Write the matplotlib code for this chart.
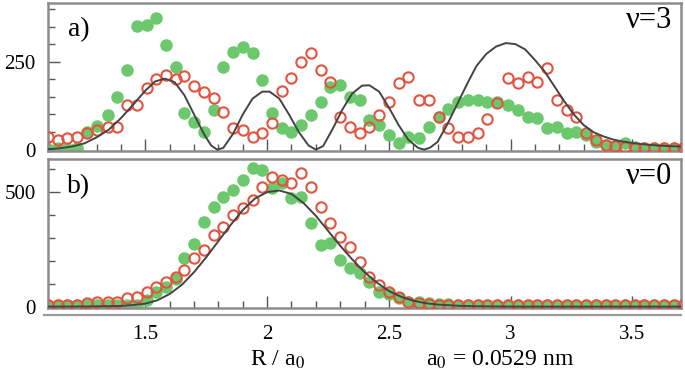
#!/usr/bin/env python3
"""Vibrational probability densities, v=3 (a) and v=0 (b)"""

import matplotlib
matplotlib.use("Agg")
import matplotlib.pyplot as plt
from matplotlib.lines import Line2D
from matplotlib.ticker import MultipleLocator, FixedLocator

plt.rcParams['font.family'] = ['Liberation Serif', 'DejaVu Serif']
plt.rcParams['mathtext.fontset'] = 'stix'

# sampled internuclear distances (R / a0), shared by both panels
r_pts = [1.10, 1.14, 1.18, 1.22, 1.26, 1.30, 1.345, 1.385, 1.425, 1.465,
         1.505, 1.545, 1.585, 1.625, 1.66, 1.70, 1.74, 1.78, 1.82, 1.86,
         1.90, 1.94, 1.98, 2.02, 2.06, 2.10, 2.14, 2.18, 2.22, 2.26,
         2.30, 2.34, 2.38, 2.42, 2.46, 2.50, 2.54, 2.58, 2.625, 2.665,
         2.705, 2.745, 2.785, 2.825, 2.865, 2.905, 2.945, 2.99, 3.03, 3.07,
         3.11, 3.15, 3.19, 3.23, 3.27, 3.31, 3.35, 3.39, 3.43, 3.47,
         3.51, 3.55, 3.59, 3.63, 3.67, 3.71]

# panel a) v=3
green_a = [3, 4, 3, 5, 51, 67, 99, 151, 226, 351,
           354, 373, 297, 236, 105, 80, 51, 113, 236, 278,
           293, 274, 198, 103, 61, 51, 70, 99, 136, 179,
           184, 151, 141, 84, 70, 42, 18, 37, 32, 65,
           94, 115, 136, 141, 141, 136, 136, 127, 113, 94,
           89, 61, 65, 47, 51, 42, 23, 13, 9, 20,
           8, 6, 5, 5, 5, 5]
red_a = [37, 28, 32, 37, 47, 56, 65, 64, 127, 127,
         174, 201, 212, 200, 209, 181, 165, 146, 108, 61,
         56, 37, 47, 75, 168, 203, 250, 276, 226, 193,
         94, 65, 47, 65, 99, 136, 189, 207, 141, 141,
         94, 61, 37, 37, 47, 86, 134, 203, 189, 207,
         193, 231, 141, 113, 94, 47, 28, 13, 9, 8,
         6, 5, 5, 4, 4, 4]
curve_a_r = [1.10, 1.15, 1.20, 1.25, 1.30, 1.35, 1.40, 1.45, 1.50, 1.54,
             1.58, 1.62, 1.66, 1.70, 1.74, 1.77, 1.795, 1.82, 1.86, 1.90,
             1.94, 1.98, 2.01, 2.05, 2.09, 2.13, 2.17, 2.20, 2.23, 2.27,
             2.31, 2.35, 2.39, 2.42, 2.46, 2.50, 2.54, 2.58, 2.62, 2.645,
             2.67, 2.70, 2.74, 2.78, 2.82, 2.86, 2.90, 2.94, 2.98, 3.02,
             3.06, 3.10, 3.14, 3.18, 3.22, 3.26, 3.30, 3.34, 3.38, 3.42,
             3.46, 3.50, 3.55, 3.60, 3.65, 3.70]
curve_a = [1, 4, 9, 18, 35, 57, 90, 128, 168, 194,
           202, 192, 155, 100, 45, 12, 0, 5, 45, 100,
           145, 165, 165, 145, 100, 50, 12, 0, 10, 60,
           115, 160, 182, 183, 165, 120, 70, 28, 5, 0,
           6, 22, 72, 128, 185, 238, 272, 293, 303, 300,
           285, 255, 222, 180, 138, 100, 70, 50, 38, 29,
           23, 19, 15, 12, 10, 9]

# panel b) v=0
green_b = [7, 7, 7, 7, 7, 7, 7, 7, 7, 8,
           30, 65, 87, 120, 210, 271, 370, 435, 478, 507,
           551, 602, 594, 515, 537, 471, 478, 363, 268, 276,
           203, 167, 145, 109, 65, 54, 36, 22, 22, 15,
           12, 10, 8, 8, 7, 7, 7, 7, 7, 7,
           7, 7, 7, 7, 7, 7, 7, 7, 7, 7,
           7, 7, 7, 7, 7, 7]
red_b = [7, 7, 7, 7, 15, 22, 22, 22, 36, 43,
         65, 87, 109, 130, 160, 210, 247, 312, 348, 399,
         428, 464, 522, 565, 551, 537, 580, 522, 435, 363,
         304, 261, 196, 130, 94, 65, 43, 22, 15, 12,
         9, 8, 8, 7, 7, 7, 7, 7, 7, 7,
         7, 7, 7, 7, 7, 7, 7, 7, 7, 7,
         7, 7, 7, 7, 7, 7]
curve_b_r = [1.10, 1.30, 1.40, 1.45, 1.50, 1.55, 1.60, 1.65, 1.70, 1.75,
             1.80, 1.85, 1.90, 1.95, 2.00, 2.05, 2.10, 2.15, 2.20, 2.25,
             2.30, 2.35, 2.40, 2.45, 2.50, 2.55, 2.60, 2.65, 2.70, 2.80,
             2.90, 3.00, 3.70]
curve_b = [0, 1, 3, 7, 13, 28, 55, 95, 150, 215,
           285, 355, 420, 470, 498, 505, 490, 450, 395, 330,
           265, 205, 150, 105, 68, 43, 26, 15, 9, 3,
           1, 0, 0]

GREEN = '#6cc86c'
RED = '#e4533f'
LINE = '#444444'
FRAME = '#8c8c8c'

W, H = 685, 377
fig = plt.figure(figsize=(W / 100, H / 100), dpi=100)
ax_a = fig.add_axes([48 / W, 1 - 150.7 / H, 633 / W, 147.7 / H])
ax_b = fig.add_axes([48 / W, 1 - 308 / H, 633 / W, 149 / H])

for ax, gy, ry, cr, cy in [(ax_a, green_a, red_a, curve_a_r, curve_a),
                           (ax_b, green_b, red_b, curve_b_r, curve_b)]:
    ax.plot(r_pts, gy, 'o', ms=8.0, color=GREEN, mec=GREEN, zorder=2)
    ax.plot(r_pts, ry, 'o', ms=7.4, mfc='none', mec=RED, mew=1.5, zorder=3)
    ax.plot(cr, cy, '-', color=LINE, lw=1.4, zorder=4)
    ax.set_xlim(1.10, 3.70)
    ax.xaxis.set_major_locator(MultipleLocator(0.5))
    ax.xaxis.set_minor_locator(MultipleLocator(0.1))
    for s in ax.spines.values():
        s.set_color(FRAME)
        s.set_linewidth(1.8)
    ax.tick_params(which='both', direction='in', color='#555555', width=1.0,
                   top=False, right=False, labelsize=15)
    ax.tick_params(which='major', length=8.5)
    ax.tick_params(which='minor', length=4.8)
    ax.tick_params(axis='y', pad=9)

ax_a.set_ylim(-3, 417)
ax_a.yaxis.set_major_locator(FixedLocator([0, 250]))
ax_a.yaxis.set_minor_locator(MultipleLocator(50))
ax_a.tick_params(axis='x', labelbottom=False)

ax_b.set_ylim(-6, 642)
ax_b.yaxis.set_major_locator(FixedLocator([0, 500]))
ax_b.yaxis.set_minor_locator(MultipleLocator(100))
ax_b.set_xticks([1.5, 2, 2.5, 3, 3.5], ['1.5', '2', '2.5', '3', '3.5'])
ax_b.tick_params(axis='x', pad=12)

# panel labels
fig.text(79 / W, 1 - 30 / H, 'a)', fontsize=20, ha='center', va='center')
fig.text(79 / W, 1 - 187 / H, 'b)', fontsize=20, ha='center', va='center')
fig.text(672 / W, 1 - 20 / H, 'ν=3', fontsize=22, ha='right', va='center')
fig.text(672 / W, 1 - 176 / H, 'ν=0', fontsize=22, ha='right', va='center')

# separate baseline under panel b
fig.add_artist(Line2D([44 / W, 681 / W], [1 - 315 / H, 1 - 315 / H],
                      color='#9a9a9a', lw=1.6))

fig.text(277 / W, 1 - 360 / H, 'R / a$_0$', fontsize=17, ha='center', va='center')
fig.text(500 / W, 1 - 360 / H, 'a$_0$ = 0.0529 nm', fontsize=17,
         ha='center', va='center')

fig.savefig('out.png', dpi=100)
